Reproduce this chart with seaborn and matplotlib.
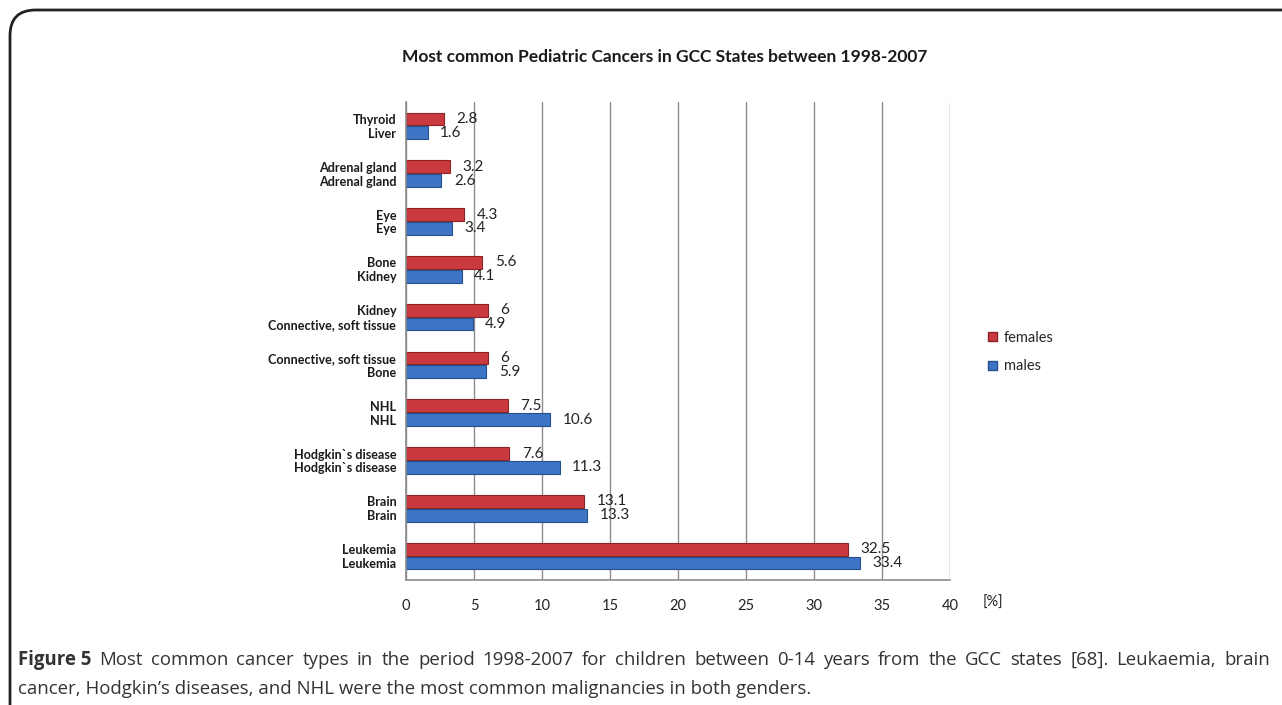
import matplotlib
matplotlib.use("Agg")
import matplotlib.pyplot as plt
import seaborn as sns
import pandas as pd
from matplotlib.patches import FancyBboxPatch, Patch

# ---------------- data ----------------
group_ids = ["g0", "g1", "g2", "g3", "g4", "g5", "g6", "g7", "g8", "g9"]
female_labels = ["Thyroid", "Adrenal gland", "Eye", "Bone", "Kidney",
                 "Connective, soft tissue", "NHL", "Hodgkin`s disease", "Brain", "Leukemia"]
female_values = [2.8, 3.2, 4.3, 5.6, 6, 6, 7.5, 7.6, 13.1, 32.5]
male_labels = ["Liver", "Adrenal gland", "Eye", "Kidney", "Connective, soft tissue",
               "Bone", "NHL", "Hodgkin`s disease", "Brain", "Leukemia"]
male_values = [1.6, 2.6, 3.4, 4.1, 4.9, 5.9, 10.6, 11.3, 13.3, 33.4]
series = ["females", "males"]
x_ticks = [0, 5, 10, 15, 20, 25, 30, 35, 40]
title = "Most common Pediatric Cancers in GCC States between 1998-2007"
unit_label = "[%]"
caption_bold = "Figure 5"
caption_line1 = ("Most common cancer types in the period 1998-2007 for children between 0-14 years "
                 "from the GCC states [68]. Leukaemia, brain")
caption_line2 = "cancer, Hodgkin\u2019s diseases, and NHL were the most common malignancies in both genders."

colors = {"females": "#c93a3e", "males": "#3d74c4"}
edge_colors = {"females": "#8e2225", "males": "#24508f"}

df = pd.DataFrame({
    "group": group_ids + group_ids,
    "sex": ["females"] * len(group_ids) + ["males"] * len(group_ids),
    "value": female_values + male_values,
})

# ---------------- figure ----------------
sns.set_theme(style="white")
plt.rcParams["font.family"] = ["Lato", "DejaVu Sans"]

W, H = 1282, 705
fig = plt.figure(figsize=(W / 100, H / 100), dpi=100)
fig.patch.set_facecolor("white")

# rounded frame
frame = FancyBboxPatch((10 / W, -0.05), 1.2, 1 - 10 / H + 0.05,
                       boxstyle="round,pad=0,rounding_size=0.02",
                       transform=fig.transFigure, fill=False,
                       edgecolor="#222222", linewidth=2.0, clip_on=False,
                       mutation_aspect=W / H)
fig.patches.append(frame)

ax = fig.add_axes([406 / W, 1 - 580 / H, (950 - 406) / W, (580 - 102) / H])

width = 0.58
sns.barplot(data=df, x="value", y="group", hue="sex", order=group_ids,
            hue_order=series, palette=colors, orient="h", width=width,
            gap=0.08, ax=ax, legend=False, saturation=1, linewidth=0.8)

for cont, s in zip(ax.containers, series):
    for p in cont:
        p.set_edgecolor(edge_colors[s])
    vals = female_values if s == "females" else male_values
    ax.bar_label(cont, labels=[f"{v:g}" for v in vals], padding=9,
                 fontsize=11, color="#222222")

ax.set_xlim(0, 40)
ax.set_xticks(x_ticks)
ax.set_xticklabels([str(t) for t in x_ticks], fontsize=10.5, color="#222222")
ax.tick_params(axis="x", length=0, pad=14)
ax.xaxis.grid(True, color="#8c8c8c", linewidth=1.0)
ax.set_axisbelow(True)

off = width / 4
ypos = [i - off for i in range(len(group_ids))] + [i + off for i in range(len(group_ids))]
ax.set_yticks(ypos)
ax.set_yticklabels(female_labels + male_labels, fontsize=9.1, fontweight="bold", color="#1a1a1a")
ax.tick_params(axis="y", length=0, pad=7)
ax.set_ylim(len(group_ids) - 0.5, -0.5)
ax.set_xlabel("")
ax.set_ylabel("")

for side in ["top", "right"]:
    ax.spines[side].set_visible(False)
for side in ["left", "bottom"]:
    ax.spines[side].set_color("#8c8c8c")
    ax.spines[side].set_linewidth(1.2)

fig.text(983 / W, 1 - 603 / H, unit_label, fontsize=10.5, color="#222222",
         va="center", ha="left")

fig.text(665 / W, 1 - 57 / H, title, fontsize=12.5, fontweight="bold",
         color="#1a1a1a", ha="center", va="center")

handles = [Patch(facecolor=colors[s], edgecolor=edge_colors[s], label=s) for s in series]
fig.legend(handles=handles, loc="center left", bbox_to_anchor=(975 / W, 1 - 352 / H),
           frameon=False, fontsize=10.5, handlelength=0.6, handleheight=0.6,
           handletextpad=0.5, labelspacing=1.0)

# caption (first line justified to the right edge)
cap_font = ["Open Sans", "DejaVu Sans"]
cap_size = 13.4
cap_color = "#333333"
fig.canvas.draw()
r = fig.canvas.get_renderer()
y1 = 1 - 660 / H
y2 = 1 - 689 / H
words = [(caption_bold, "bold")] + [(w, "normal") for w in caption_line1.split(" ")]
texts = []
for w, wt in words:
    t = fig.text(0, y1, w, fontsize=cap_size, fontweight=wt, color=cap_color,
                 family=cap_font, va="center", ha="left")
    texts.append(t)
widths = [t.get_window_extent(r).width for t in texts]
x_left, x_right = 18, 1270
space = (x_right - x_left - sum(widths)) / (len(texts) - 1)
x = x_left
for t, wdt in zip(texts, widths):
    t.set_x(x / W)
    x += wdt + space
fig.text(18 / W, y2, caption_line2, fontsize=cap_size, color=cap_color,
         family=cap_font, va="center", ha="left")

fig.savefig("out.png", dpi=100, facecolor="white")
